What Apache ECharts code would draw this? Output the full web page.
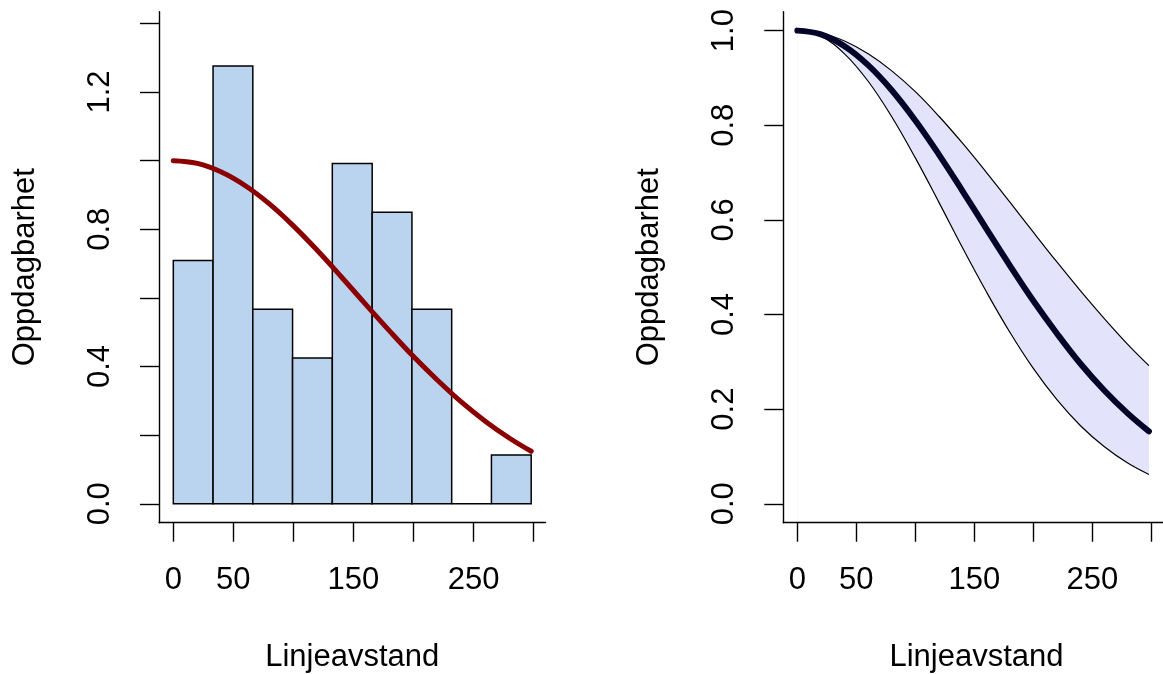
<!DOCTYPE html>
<html>
<head>
<meta charset="utf-8">
<script src="https://cdn.jsdelivr.net/npm/echarts@6/dist/echarts.min.js"></script>
<style>
html,body{margin:0;padding:0;background:#fff;}
#chart{width:1163px;height:674px;}
</style>
</head>
<body>
<div id="chart"></div>
<script>
// ---- data ----
const histBreaks = [0, 33.1, 66.2, 99.3, 132.4, 165.6, 198.7, 231.8, 264.9, 298];
const histHeights = [0.709, 1.276, 0.567, 0.425, 0.992, 0.850, 0.567, 0, 0.142];

const distances = [0, 20, 40, 60, 80, 100, 120, 140, 160, 180, 200, 220, 240, 260, 280, 298];
const detectFit = [1.000, 0.992, 0.967, 0.927, 0.874, 0.810, 0.738, 0.661, 0.582, 0.504, 0.429, 0.360, 0.296, 0.240, 0.191, 0.153];
const detectUpper = [1.000, 0.995, 0.978, 0.951, 0.915, 0.871, 0.819, 0.762, 0.701, 0.638, 0.574, 0.511, 0.450, 0.392, 0.337, 0.292];
const detectLower = [1.000, 0.988, 0.951, 0.893, 0.818, 0.731, 0.637, 0.541, 0.449, 0.363, 0.286, 0.220, 0.165, 0.121, 0.086, 0.062];

const xTicks = [0, 50, 100, 150, 200, 250, 300];
const xTickLabels = [0, 50, 150, 250];
const yTicksLeft = [0, 0.2, 0.4, 0.6, 0.8, 1.0, 1.2, 1.4];
const yLabelsLeft = [0, 0.4, 0.8, 1.2];
const yTicksRight = [0, 0.2, 0.4, 0.6, 0.8, 1.0];

const xTitle = 'Linjeavstand';
const yTitle = 'Oppdagbarhet';

// ---- chart ----
const FONT = '"Liberation Sans", Arial, Helvetica, sans-serif';
const FS = 31;
const chart = echarts.init(document.getElementById('chart'), null, {renderer: 'canvas'});

function xAxisDef(gridIndex) {
  return {
    type: 'value', gridIndex: gridIndex, min: -11.92, max: 309.92, z: 10,
    splitLine: {show: false},
    axisLine: {show: true, onZero: false, lineStyle: {color: '#000', width: 1.4}},
    axisTick: {show: true, customValues: xTicks, length: 19, lineStyle: {color: '#000', width: 1.4}},
    axisLabel: {customValues: xTickLabels, margin: 58, verticalAlign: 'middle',
      color: '#000', fontSize: FS, fontFamily: FONT}
  };
}
function yAxisDef(gridIndex, min, max, ticks, labels) {
  return {
    type: 'value', gridIndex: gridIndex, min: min, max: max, z: 10,
    splitLine: {show: false},
    axisLine: {show: true, onZero: false, lineStyle: {color: '#000', width: 1.4}},
    axisTick: {show: true, customValues: ticks, length: 19, lineStyle: {color: '#000', width: 1.4}},
    axisLabel: {customValues: labels, margin: 59, rotate: 90, align: 'center', verticalAlign: 'middle',
      color: '#000', fontSize: FS, fontFamily: FONT,
      formatter: v => Number(v).toFixed(1)}
  };
}

const histData = histHeights.map((h, i) => [histBreaks[i], histBreaks[i + 1], h]);
const fitPts = distances.map((d, i) => [d, detectFit[i]]);
const lowPts = distances.map((d, i) => [d, detectLower[i]]);
const upPts = distances.map((d, i) => [d, detectUpper[i]]);

const grids = [
  {left: 159, top: 11.7, width: 386.5, height: 511},
  {left: 783.3, top: 11.7, width: 386.5, height: 511}
];

const SM = 0.4;
const option = {
  animation: false,
  backgroundColor: '#fff',
  grid: grids,
  xAxis: [xAxisDef(0), xAxisDef(1)],
  yAxis: [
    yAxisDef(0, -0.0552, 1.4342, yTicksLeft, yLabelsLeft),
    yAxisDef(1, -0.04, 1.04, yTicksRight, yTicksRight)
  ],
  graphic: [
    {type: 'text', x: 352.2, y: 657, style: {text: xTitle, font: FS + 'px ' + FONT, fill: '#000', textAlign: 'center', textVerticalAlign: 'middle'}},
    {type: 'text', x: 976.5, y: 657, style: {text: xTitle, font: FS + 'px ' + FONT, fill: '#000', textAlign: 'center', textVerticalAlign: 'middle'}},
    {type: 'text', x: 25, y: 267.2, rotation: Math.PI / 2, style: {text: yTitle, font: FS + 'px ' + FONT, fill: '#000', textAlign: 'center', textVerticalAlign: 'middle'}},
    {type: 'text', x: 649, y: 267.2, rotation: Math.PI / 2, style: {text: yTitle, font: FS + 'px ' + FONT, fill: '#000', textAlign: 'center', textVerticalAlign: 'middle'}}
  ],
  series: [
    {
      type: 'custom', xAxisIndex: 0, yAxisIndex: 0, data: histData,
      renderItem: function (params, api) {
        const p0 = api.coord([api.value(0), api.value(2)]);
        const p1 = api.coord([api.value(1), 0]);
        return {
          type: 'rect',
          shape: {x: p0[0], y: p0[1], width: p1[0] - p0[0], height: p1[1] - p0[1]},
          style: {fill: '#BAD3EE', stroke: '#000', lineWidth: 1.5}
        };
      },
      encode: {x: [0, 1], y: 2}
    },
    {
      type: 'line', xAxisIndex: 0, yAxisIndex: 0, data: fitPts, smooth: SM,
      symbol: 'none', lineStyle: {color: '#8B0000', width: 5, cap: 'round'}, z: 5
    },
    // band fill: lavender under upper edge, white under lower edge
    {
      type: 'line', xAxisIndex: 1, yAxisIndex: 1, data: upPts, smooth: SM, z: 2,
      symbol: 'none', lineStyle: {width: 0, opacity: 0},
      areaStyle: {color: '#E3E3FB', opacity: 1, origin: 'start'}
    },
    {
      type: 'line', xAxisIndex: 1, yAxisIndex: 1, data: lowPts, smooth: SM, z: 3,
      symbol: 'none', lineStyle: {width: 0, opacity: 0},
      areaStyle: {color: '#FFFFFF', opacity: 1, origin: 'start'}
    },
    {
      type: 'line', xAxisIndex: 1, yAxisIndex: 1, data: upPts, smooth: SM, z: 4,
      symbol: 'none', lineStyle: {color: '#000', width: 1.2}
    },
    {
      type: 'line', xAxisIndex: 1, yAxisIndex: 1, data: lowPts, smooth: SM, z: 4,
      symbol: 'none', lineStyle: {color: '#000', width: 1.2}
    },
    {
      type: 'line', xAxisIndex: 1, yAxisIndex: 1, data: fitPts, smooth: SM,
      symbol: 'none', lineStyle: {color: '#05052A', width: 6, cap: 'round'}, z: 5
    }
  ]
};
chart.setOption(option);
</script>
</body>
</html>
